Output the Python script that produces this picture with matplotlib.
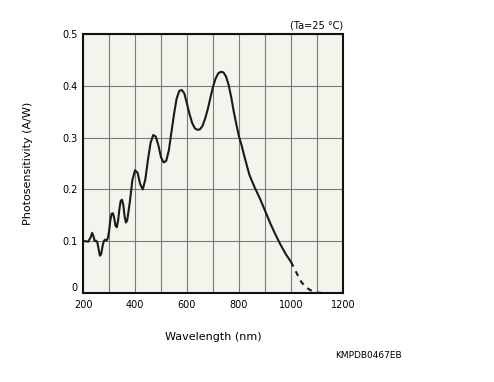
import numpy as np
import matplotlib
matplotlib.use('Agg')
import matplotlib.pyplot as plt

# spectral response
wl = [200, 210, 220, 230, 235, 240, 245, 250, 255, 260, 265, 270, 275, 280, 285, 290,
      295, 300, 305, 310, 315, 320, 325, 330, 335, 340, 345, 350, 355, 360, 365, 370,
      380, 390, 400, 410, 420, 430, 440, 450, 460, 470, 480, 490, 500, 510, 520, 530,
      540, 550, 560, 570, 580, 590, 600, 610, 620, 630, 640, 650, 660, 670, 680, 690,
      700, 710, 720, 730, 740, 750, 760, 770, 780, 790, 800, 810, 820, 840, 860, 880,
      900, 920, 940, 960, 980, 1000]
sens = [0.100, 0.100, 0.099, 0.108, 0.116, 0.110, 0.100, 0.101, 0.098, 0.085, 0.072, 0.075,
        0.090, 0.100, 0.103, 0.101, 0.105, 0.118, 0.140, 0.153, 0.154, 0.145, 0.130, 0.127,
        0.140, 0.162, 0.178, 0.180, 0.170, 0.148, 0.136, 0.140, 0.175, 0.218, 0.237, 0.232,
        0.210, 0.200, 0.220, 0.258, 0.290, 0.305, 0.302, 0.285, 0.262, 0.252, 0.255, 0.275,
        0.310, 0.345, 0.375, 0.390, 0.392, 0.385, 0.365, 0.345, 0.328, 0.318, 0.315, 0.316,
        0.323, 0.337, 0.355, 0.377, 0.398, 0.414, 0.424, 0.427, 0.426, 0.418, 0.402, 0.378,
        0.350, 0.325, 0.302, 0.285, 0.265, 0.228, 0.204, 0.183, 0.159, 0.135, 0.113, 0.093,
        0.075, 0.060]

# extrapolated tail (dashed part)
wl_tail = [1000, 1020, 1040, 1060, 1080, 1100, 1120, 1150, 1200]
sens_tail = [0.060, 0.040, 0.021, 0.010, 0.004, 0.001, 0.0, 0.0, 0.0]

x_ticks = [200, 400, 600, 800, 1000, 1200]
y_ticks = [0, 0.1, 0.2, 0.3, 0.4, 0.5]
y_labels = ['0', '0.1', '0.2', '0.3', '0.4', '0.5']

fig = plt.figure(figsize=(4.94, 3.82), dpi=100)
ax = fig.add_axes([83/494, 89/382, 260/494, 259/382])
ax.set_facecolor('#f4f3ec')

ax.set_xlim(200, 1200)
ax.set_ylim(0, 0.5)
ax.set_xticks(x_ticks)
ax.set_xticks(np.arange(300, 1200, 100), minor=True)
ax.set_yticks(y_ticks)
ax.set_yticklabels(y_labels)
ax.grid(True, which='both', color='#7a7a7a', linewidth=0.8)
ax.tick_params(which='both', length=0, labelsize=7)
ax.tick_params(axis='x', pad=5)
ax.tick_params(axis='y', pad=4)
# lift the "0" label a little so it clears the "200" below it
ax.get_yticklabels()[0].set_verticalalignment('bottom')
for s in ax.spines.values():
    s.set_linewidth(1.5)
    s.set_color('#111111')

ax.plot(wl, sens, color='#1a1a1a', linewidth=1.5, solid_capstyle='round')
ax.plot(wl_tail, sens_tail, color='#1a1a1a', linewidth=1.5, linestyle=(0, (2.5, 2.5)))

ax.set_xlabel('Wavelength (nm)', fontsize=8, labelpad=16)
ax.set_ylabel('Photosensitivity (A/W)', fontsize=8, labelpad=21)

fig.text(343/494, 1 - 26/382, '(Ta=25 °C)', fontsize=7, ha='right', va='center')
fig.text(335/494, 1 - 355/382, 'KMPDB0467EB', fontsize=6.5, ha='left', va='center')

fig.savefig('out.png', dpi=100)
